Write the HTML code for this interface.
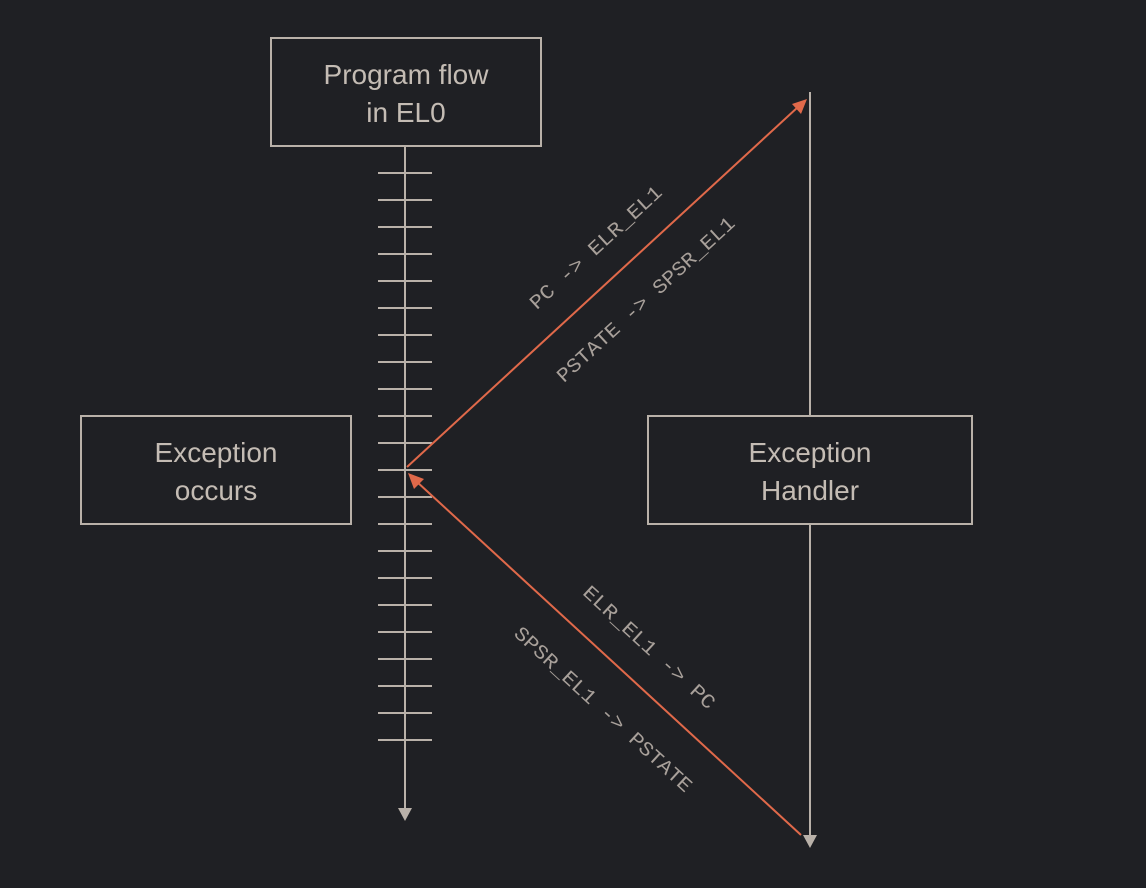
<!DOCTYPE html>
<html><head><style>
html,body{margin:0;padding:0;background:#1f2024;}
svg{display:block;}
.box{fill:none;stroke:#b9b1a9;stroke-width:2;}
.t{font-family:"Liberation Sans",sans-serif;font-size:28px;fill:#c4bcb4;text-anchor:middle;}
.m{font-family:"Liberation Mono","Courier New",monospace;font-size:20px;fill:#a8a09a;text-anchor:middle;}
</style></head><body>
<svg width="1146" height="888" viewBox="0 0 1146 888">
<rect width="1146" height="888" fill="#1f2024"/>
<rect class="box" x="271" y="38" width="270" height="108"/>
<text class="t" x="406" y="84">Program flow</text>
<text class="t" x="406" y="122">in EL0</text>
<rect class="box" x="81" y="416" width="270" height="108"/>
<text class="t" x="216" y="462">Exception</text>
<text class="t" x="216" y="500">occurs</text>
<rect class="box" x="648" y="416" width="324" height="108"/>
<text class="t" x="810" y="462">Exception</text>
<text class="t" x="810" y="500">Handler</text>
<g stroke="#b9b1a9" stroke-width="2">
<line x1="405" y1="146" x2="405" y2="810"/>
<line x1="810" y1="92" x2="810" y2="415"/>
<line x1="810" y1="524" x2="810" y2="837"/>
<line x1="378" y1="173" x2="432" y2="173"/><line x1="378" y1="200" x2="432" y2="200"/>
<line x1="378" y1="227" x2="432" y2="227"/><line x1="378" y1="254" x2="432" y2="254"/>
<line x1="378" y1="281" x2="432" y2="281"/><line x1="378" y1="308" x2="432" y2="308"/>
<line x1="378" y1="335" x2="432" y2="335"/><line x1="378" y1="362" x2="432" y2="362"/>
<line x1="378" y1="389" x2="432" y2="389"/><line x1="378" y1="416" x2="432" y2="416"/>
<line x1="378" y1="443" x2="432" y2="443"/><line x1="378" y1="470" x2="432" y2="470"/>
<line x1="378" y1="497" x2="432" y2="497"/><line x1="378" y1="524" x2="432" y2="524"/>
<line x1="378" y1="551" x2="432" y2="551"/><line x1="378" y1="578" x2="432" y2="578"/>
<line x1="378" y1="605" x2="432" y2="605"/><line x1="378" y1="632" x2="432" y2="632"/>
<line x1="378" y1="659" x2="432" y2="659"/><line x1="378" y1="686" x2="432" y2="686"/>
<line x1="378" y1="713" x2="432" y2="713"/><line x1="378" y1="740" x2="432" y2="740"/>
</g>
<polygon points="398,808 412,808 405,821" fill="#b9b1a9"/>
<polygon points="803,835 817,835 810,848" fill="#b9b1a9"/>
<g stroke="#e0694a" stroke-width="2">
<line x1="407" y1="467" x2="798" y2="107"/>
<line x1="801" y1="835" x2="416" y2="481"/>
</g>
<polygon points="807,99 801,114 792,104" fill="#e0694a"/>
<polygon points="408,473 424,479 414,489" fill="#e0694a"/>
<text class="m" transform="translate(600,252) rotate(-42.6)" textLength="172" lengthAdjust="spacingAndGlyphs">PC -&gt; ELR_EL1</text>
<text class="m" transform="translate(650,304) rotate(-42.6)" textLength="234" lengthAdjust="spacingAndGlyphs">PSTATE -&gt; SPSR_EL1</text>
<text class="m" transform="translate(645,652) rotate(42.6)" textLength="172" lengthAdjust="spacingAndGlyphs">ELR_EL1 -&gt; PC</text>
<text class="m" transform="translate(599,714) rotate(42.6)" textLength="234" lengthAdjust="spacingAndGlyphs">SPSR_EL1 -&gt; PSTATE</text>
</svg>
</body></html>
